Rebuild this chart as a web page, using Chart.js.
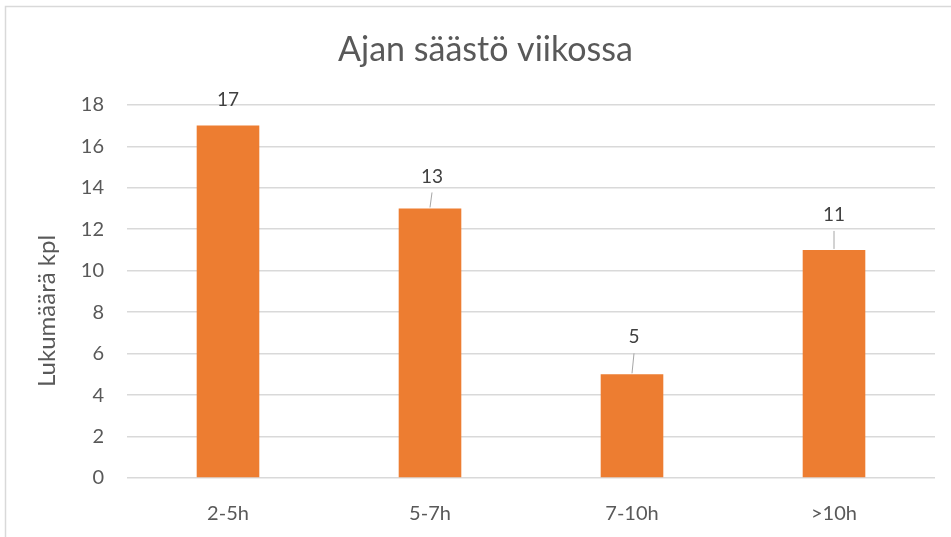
<!DOCTYPE html>
<html>
<head>
<meta charset="utf-8">
<script src="https://cdn.jsdelivr.net/npm/chart.js"></script>
<style>
  html, body { margin: 0; padding: 0; background: #fff; }
  #wrap { width: 951px; height: 537px; position: relative; }
</style>
</head>
<body>
<div id="wrap"><canvas id="myChart"></canvas></div>
<script>
// Data
const categories = ['2-5h', '5-7h', '7-10h', '>10h'];
const counts = [17, 13, 5, 11];
const yTicks = [0, 2, 4, 6, 8, 10, 12, 14, 16, 18];
const yTitle = 'Lukumäärä kpl';

const FONT = 'Lato, "Open Sans", sans-serif';
const TEXT = '#595959';

// border around the chart like the office chart frame
const frame = {
  id: 'frame',
  beforeDraw(chart) {
    const ctx = chart.ctx;
    ctx.save();
    ctx.fillStyle = '#fff';
    ctx.fillRect(0, 0, chart.width, chart.height);
    ctx.strokeStyle = '#d9d9d9';
    ctx.lineWidth = 1.5;
    ctx.strokeRect(5.5, 6.5, chart.width + 20, chart.height + 20);
    ctx.restore();
  },
  // y axis title, a bit below the middle like in the original
  afterDraw(chart) {
    const ctx = chart.ctx;
    ctx.save();
    ctx.font = '24px ' + FONT;
    ctx.fillStyle = TEXT;
    ctx.textAlign = 'center';
    ctx.textBaseline = 'middle';
    ctx.translate(47, 311);
    ctx.rotate(-Math.PI / 2);
    ctx.fillText(yTitle, 0, 0);
    ctx.restore();
  }
};

// value labels with little leader lines
const valueLabels = {
  id: 'valueLabels',
  afterDatasetsDraw(chart, args, opts) {
    const ctx = chart.ctx;
    const meta = chart.getDatasetMeta(0);
    ctx.save();
    ctx.font = '19px ' + FONT;
    ctx.fillStyle = '#404040';
    ctx.textAlign = 'center';
    ctx.textBaseline = 'middle';
    meta.data.forEach((bar, i) => {
      const off = opts.offsets[i];
      const dx = opts.shift[i];
      const ly = bar.y - off;
      ctx.fillText(String(counts[i]), bar.x + dx, ly);
      if (opts.leader[i]) {
        ctx.strokeStyle = '#a6a6a6';
        ctx.lineWidth = 1;
        ctx.beginPath();
        ctx.moveTo(bar.x + dx, ly + 16);
        ctx.lineTo(bar.x, bar.y - 1);
        ctx.stroke();
      }
    });
    ctx.restore();
  }
};

const config = {
  type: 'bar',
  data: {
    labels: categories,
    datasets: [{
      label: yTitle,
      data: counts,
      backgroundColor: '#ED7D31',
      borderColor: '#ED7D31',
      borderWidth: 0,
      categoryPercentage: 1,
      barPercentage: 0.31
    }]
  },
  options: {
    responsive: true,
    maintainAspectRatio: false,
    animation: false,
    layout: { padding: { left: 36, right: 16, top: 0, bottom: 0 } },
    plugins: {
      legend: { display: false },
      tooltip: { enabled: false },
      title: {
        display: true,
        text: 'Ajan säästö viikossa',
        color: TEXT,
        font: { family: FONT, size: 34, weight: 'normal' },
        padding: { top: 30, bottom: 34 }
      },
      valueLabels: {
        offsets: [26, 32, 37, 35],
        shift: [0, 2, 2, 0],
        leader: [false, true, true, true]
      }
    },
    scales: {
      x: {
        grid: { display: false },
        border: { display: false },
        ticks: { color: TEXT, font: { family: FONT, size: 20 }, padding: 16 },
        afterFit(scale) { scale.height = 59; }
      },
      y: {
        min: 0,
        max: 18,
        afterBuildTicks(scale) { scale.ticks = yTicks.map(v => ({ value: v })); },
        grid: { color: '#d9d9d9', lineWidth: 1.5, drawTicks: false },
        border: { display: false },
        ticks: { color: TEXT, font: { family: FONT, size: 20 }, padding: 23 },
        afterFit(scale) { scale.width = 91; }
      }
    }
  },
  plugins: [frame, valueLabels]
};

new Chart(document.getElementById('myChart'), config);
</script>
</body>
</html>
